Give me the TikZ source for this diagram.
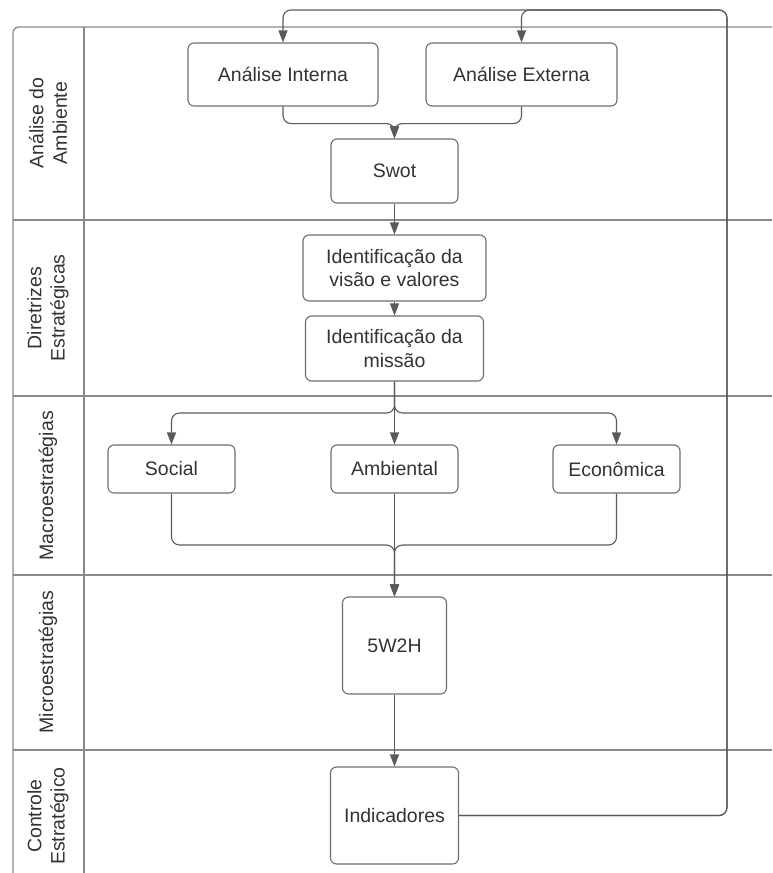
\documentclass[tikz,border=0pt]{standalone}
\usepackage{fontspec}
\setmainfont{Liberation Sans}
\usetikzlibrary{arrows.meta}

\definecolor{lanegray}{HTML}{8A8A8A}
\definecolor{boxgray}{HTML}{6E6E6E}
\definecolor{linegray}{HTML}{5A5A5A}
\definecolor{txtgray}{HTML}{333333}

\begin{document}
\begin{tikzpicture}[x=1pt, y=-1pt,
	caixa/.style={draw=boxgray, line width=1.1pt, rounded corners=6pt, fill=white,
		text=txtgray, align=center, inner sep=0pt, font=\fontsize{19.5}{23.4}\selectfont},
	raia/.style={draw=lanegray, line width=1.3pt},
	rotulo/.style={rotate=90, align=center, text=txtgray, font=\fontsize{19.5}{23.4}\selectfont},
	seta/.style={draw=linegray, line width=1.1pt, rounded corners=8pt,
		-{Triangle[width=9pt, length=12pt]}}]
	
	\useasboundingbox (0,0) rectangle (772,873);
	
	% Swimlanes
	\draw[raia, rounded corners=6pt] (13,873) -- (13,27) -- (772,27);
	\draw[raia] (84,27) -- (84,873);
	\foreach \y in {220, 396, 575, 750} {
		\draw[raia] (13,\y) -- (772,\y);
	}
	
	% Lane titles
	\node[rotulo] (tAmb) at (48,123) {Análise do\\Ambiente};
	\node[rotulo] (tDir) at (48,308) {Diretrizes\\Estratégicas};
	\node[rotulo] (tMacro) at (48,486) {Macroestratégias};
	\node[rotulo] (tMicro) at (48,662) {Microestratégias};
	\node[rotulo] (tCont) at (48,816) {Controle\\Estratégico};
	
	% Boxes
	\node[caixa, minimum width=190pt, minimum height=63pt] (intA) at (283,74.5) {Análise Interna};
	\node[caixa, minimum width=191pt, minimum height=63pt] (extA) at (521.5,74.5) {Análise Externa};
	\node[caixa, minimum width=127pt, minimum height=64pt] (swot) at (394.5,171) {Swot};
	\node[caixa, minimum width=183pt, minimum height=66pt] (visao) at (394.5,268) {Identificação da\\visão e valores};
	\node[caixa, minimum width=178pt, minimum height=65pt] (missao) at (394.5,348.5) {Identificação da\\missão};
	\node[caixa, minimum width=127pt, minimum height=48pt] (social) at (171.5,469) {Social};
	\node[caixa, minimum width=127pt, minimum height=48pt] (ambiental) at (394.5,469) {Ambiental};
	\node[caixa, minimum width=127pt, minimum height=48pt] (economica) at (616.5,469) {Econômica};
	\node[caixa, minimum width=104pt, minimum height=97pt] (plano) at (394.5,645.5) {5W2H};
	\node[caixa, minimum width=128pt, minimum height=97pt] (indic) at (394.5,815.5) {Indicadores};
	
	\coordinate (divide) at (394.5,413);
	\coordinate (junta) at (394.5,545);
	\coordinate (volta) at (727,10);
	
	% Analysis to Swot
	\draw[seta] (intA.south) -- ++(0,17) -| (swot.north);
	\draw[seta] (extA.south) -- ++(0,17) -| (swot.north);
	\draw[seta] (swot) -- (visao);
	\draw[seta] (visao) -- (missao);
	
	% Split into macro strategies
	\draw[seta] (missao.south) -- (divide) -| (social.north);
	\draw[seta] (missao) -- (ambiental);
	\draw[seta] (missao.south) -- (divide) -| (economica.north);
	
	% Merge into 5W2H
	\draw[seta] (social.south) |- (junta) -- (plano.north);
	\draw[seta] (ambiental) -- (plano);
	\draw[seta] (economica.south) |- (junta) -- (plano.north);
	\draw[seta] (plano) -- (indic);
	
	% Feedback loop
	\draw[seta] (indic.east) -| (volta) -| (extA.north);
	\draw[seta] (indic.east) -| (volta) -| (intA.north);
	
\end{tikzpicture}
\end{document}
